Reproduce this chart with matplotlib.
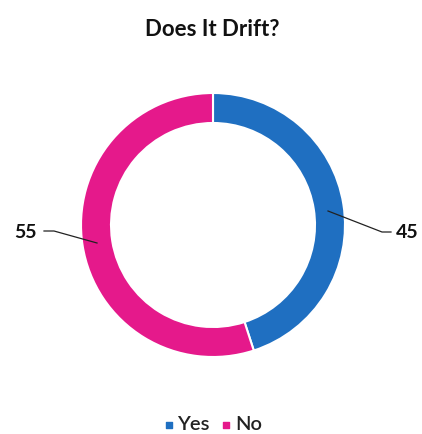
import matplotlib
matplotlib.use("Agg")
import matplotlib.pyplot as plt

categories = ["Yes", "No"]
values = [45, 55]
colors = ["#1F6FC1", "#E5198B"]
title = "Does It Drift?"

W, H = 422, 434
fig = plt.figure(figsize=(W / 100, H / 100), dpi=100)
ax = fig.add_axes([0, 0, 1, 1])

cx, cy, r = 213, 225, 132
# y axis is inverted below, so startangle=-90 is the top and counterclock=True runs clockwise
wedges, _ = ax.pie(values, colors=colors, startangle=-90, counterclock=True,
                   center=(cx, cy), radius=r, frame=True,
                   wedgeprops=dict(width=30, edgecolor="white", linewidth=1.5))
ax.set_xlim(0, W)
ax.set_ylim(H, 0)
ax.set_aspect("equal")
ax.axis("off")

font = "Lato"
# data labels with leader lines
ax.plot([328, 382, 391], [211, 232, 232], color="#222222", lw=0.9)
ax.text(396, 233, str(values[0]), ha="left", va="center", fontsize=14,
        fontweight="bold", family=font, color="#111111")
ax.plot([44, 54, 97], [231, 231, 243], color="#222222", lw=0.9)
ax.text(37, 232, str(values[1]), ha="right", va="center", fontsize=14,
        fontweight="bold", family=font, color="#111111")

ax.text(212, 29, title, ha="center", va="center", fontsize=16,
        fontweight="bold", family=font, color="#111111")

# legend
leg_y = 425
ax.scatter([169], [leg_y], marker="s", s=24, color=colors[0])
ax.text(177, leg_y, categories[0], ha="left", va="center", fontsize=14.5,
        family=font, fontweight="semibold", color="#222222")
ax.scatter([226], [leg_y], marker="s", s=24, color=colors[1])
ax.text(235, leg_y, categories[1], ha="left", va="center", fontsize=14.5,
        family=font, fontweight="semibold", color="#222222")

fig.savefig("out.png", dpi=100, facecolor="white")
